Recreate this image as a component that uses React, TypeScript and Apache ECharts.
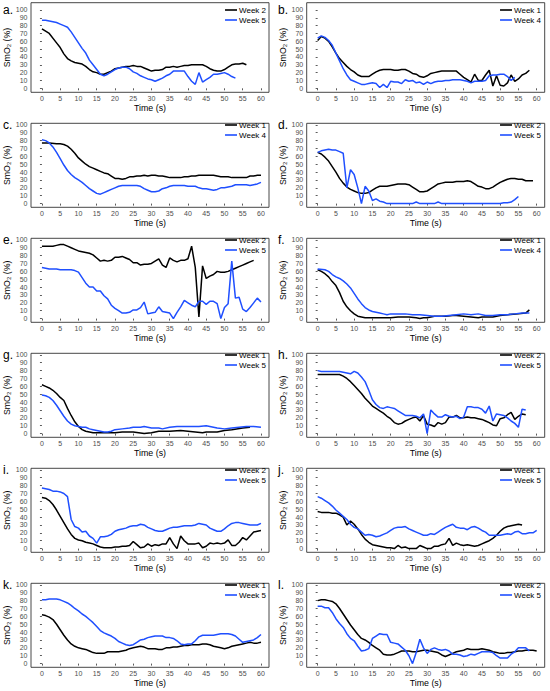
import React, { useEffect, useRef } from "react";
import * as echarts from "echarts";

// ---- data: [time (s), SmO2 (%)] ----
const aWeek2 = [[0,76],[2,70],[4,58],[5,52],[6,44],[7,38],[8,35],[9,33],[10,32],[11,31],[12,28],[13,24],[14,21],[15,20],[16,18],[17,18],[18,20],[19,22],[20,25],[21,26],[22,27],[23,28],[24,28],[25,29],[26,28],[27,28],[28,26],[29,24],[30,22],[31,23],[32,23],[33,24],[34,27],[35,27],[36,28],[37,27],[38,28],[39,29],[40,29],[41,30],[42,30],[43,30],[44,30],[45,28],[46,25],[47,23],[48,22],[49,22],[50,24],[51,27],[52,30],[53,31],[54,31],[55,32],[56,30]];
const aWeek5 = [[0,87],[1,87],[2,86],[3,85],[4,84],[5,82],[6,80],[7,78],[8,72],[9,65],[10,58],[11,51],[12,45],[13,36],[14,30],[15,24],[16,18],[17,16],[18,18],[19,21],[20,24],[21,26],[22,27],[23,27],[24,25],[25,21],[26,19],[27,16],[28,14],[29,12],[30,11],[31,9],[32,11],[33,13],[34,16],[35,18],[36,22],[37,22],[38,22],[39,22],[40,15],[41,9],[42,5],[43,20],[44,8],[45,11],[46,14],[47,18],[48,18],[49,19],[50,20],[51,18],[52,15],[53,13]];

const bWeek1 = [[0,61],[1,66],[2,64],[3,60],[4,53],[5,45],[6,38],[7,33],[8,28],[9,24],[10,21],[11,17],[12,15],[13,15],[14,15],[15,18],[16,21],[17,23],[18,24],[19,24],[20,24],[21,23],[22,23],[23,24],[24,24],[25,22],[26,19],[27,18],[28,15],[29,14],[30,16],[31,19],[32,20],[33,21],[34,22],[35,22],[36,22],[37,22],[38,22],[39,18],[40,14],[41,11],[42,8],[43,18],[44,10],[45,10],[46,17],[47,23],[48,3],[49,16],[50,4],[51,3],[52,7],[53,17],[54,9],[55,12],[56,17],[57,19],[58,23]];
const bWeek4 = [[0,64],[1,67],[2,65],[3,61],[4,55],[5,45],[6,35],[7,25],[8,17],[9,11],[10,9],[11,7],[12,5],[13,5],[14,6],[15,7],[16,6],[17,1],[18,5],[19,1],[20,9],[21,8],[22,8],[23,6],[24,11],[25,9],[26,10],[27,7],[28,8],[29,5],[30,8],[31,6],[32,8],[33,9],[34,9],[35,10],[36,10],[37,11],[38,11],[39,11],[40,10],[41,9],[42,7],[43,9],[44,9],[45,9],[46,10],[47,16],[48,17],[49,17],[50,18],[51,18],[52,15],[53,10],[54,14]];

const cWeek1 = [[0,77],[2,77],[4,76],[5,76],[6,75],[7,73],[8,69],[9,64],[10,58],[11,54],[12,50],[13,47],[14,45],[15,43],[16,41],[17,39],[18,38],[19,35],[20,32],[21,32],[22,31],[23,32],[24,34],[25,34],[26,35],[27,35],[28,36],[29,35],[30,36],[31,36],[32,35],[33,35],[34,34],[35,33],[36,33],[37,33],[38,33],[39,34],[40,34],[41,35],[42,35],[43,36],[44,36],[45,36],[46,36],[47,36],[48,35],[49,34],[50,34],[51,34],[52,33],[53,33],[54,33],[55,33],[56,33],[57,35],[58,35],[59,36],[60,36]];
const cWeek4 = [[0,81],[1,80],[2,77],[3,72],[4,65],[5,57],[6,49],[7,42],[8,37],[9,33],[10,30],[11,27],[12,23],[13,19],[14,16],[15,13],[16,12],[17,14],[18,16],[19,18],[20,20],[21,22],[22,23],[23,23],[24,23],[25,23],[26,23],[27,22],[28,19],[29,17],[30,15],[31,15],[32,16],[33,19],[34,20],[35,22],[36,23],[37,23],[38,23],[39,23],[40,22],[41,22],[42,22],[43,20],[44,19],[45,19],[46,18],[47,17],[48,18],[49,20],[50,20],[51,21],[52,22],[53,24],[54,24],[55,24],[56,24],[57,23],[58,24],[59,25],[60,27]];

const dWeek2 = [[0,65],[1,63],[2,59],[3,54],[4,47],[5,40],[6,32],[7,26],[8,21],[9,18],[10,16],[11,14],[12,13],[13,13],[14,14],[15,17],[16,20],[17,22],[18,22],[19,22],[20,23],[21,24],[22,25],[23,25],[24,25],[25,24],[26,21],[27,18],[28,15],[29,15],[30,16],[31,19],[32,22],[33,25],[34,26],[35,27],[36,27],[37,27],[38,28],[39,28],[40,28],[41,29],[42,28],[43,25],[44,22],[45,21],[46,19],[47,19],[48,21],[49,24],[50,27],[51,29],[52,31],[53,32],[54,32],[55,31],[56,31],[57,29],[58,29],[59,29]];
const dWeek5 = [[0,65],[1,67],[2,68],[3,69],[4,68],[5,68],[6,66],[7,64],[8,20],[9,43],[10,37],[11,20],[12,0],[13,22],[14,16],[15,4],[16,6],[17,3],[18,2],[19,0],[20,0],[25,0],[26,0],[27,2],[28,0],[32,0],[33,2],[34,0],[50,0],[51,1],[52,1],[53,2],[54,5],[55,9]];

const eWeek2 = [[0,92],[1,92],[2,92],[3,92],[4,93],[5,94],[6,94],[7,92],[8,90],[9,88],[10,86],[11,85],[12,84],[13,83],[14,81],[15,77],[16,73],[17,74],[18,73],[19,74],[20,78],[21,78],[22,79],[23,77],[24,75],[25,71],[26,71],[27,68],[28,69],[29,69],[30,70],[31,73],[32,76],[33,68],[34,65],[35,77],[36,74],[37,72],[38,74],[39,74],[40,76],[41,92],[42,65],[43,2],[44,67],[45,51],[46,54],[47,56],[48,60],[49,59],[50,59],[51,60],[52,62],[53,64],[54,66],[55,68],[56,70],[57,72],[58,74]];
const eWeek5 = [[0,65],[1,64],[2,63],[3,63],[4,63],[5,62],[6,62],[7,62],[8,62],[9,61],[10,59],[11,52],[12,45],[13,40],[14,40],[15,35],[16,35],[17,29],[18,25],[19,17],[20,13],[21,10],[22,7],[23,7],[24,8],[25,11],[26,11],[27,14],[28,21],[29,6],[30,7],[31,8],[32,15],[33,9],[34,8],[35,7],[36,0],[37,8],[38,15],[39,23],[40,20],[41,17],[42,15],[43,22],[44,22],[45,18],[46,22],[47,22],[48,19],[49,0],[50,14],[51,19],[52,73],[53,26],[54,27],[55,12],[56,9],[57,14],[58,20],[59,26],[60,21]];

const fWeek1 = [[0,62],[1,60],[2,57],[3,53],[4,47],[5,42],[6,33],[7,22],[8,15],[9,10],[10,6],[11,3],[12,2],[13,1],[14,1],[15,1],[20,1],[22,2],[25,2],[27,1],[28,0],[29,1],[30,1],[31,2],[32,3],[35,3],[37,4],[38,4],[40,3],[42,2],[44,1],[45,2],[48,2],[50,4],[52,5],[55,6],[57,7],[58,11]];
const fWeek4 = [[0,63],[2,62],[3,60],[4,56],[5,53],[6,51],[7,48],[8,44],[9,39],[10,32],[11,25],[12,19],[13,14],[14,11],[15,9],[16,8],[17,7],[18,6],[19,5],[20,6],[22,6],[24,6],[26,5],[28,5],[30,4],[32,3],[34,3],[36,4],[38,5],[40,6],[42,5],[44,6],[46,4],[48,4],[50,5],[52,5],[54,6],[56,7],[58,7]];

const gWeek1 = [[0,62],[1,60],[2,58],[3,55],[4,51],[5,46],[6,42],[7,32],[8,23],[9,15],[10,9],[11,5],[12,3],[13,2],[14,1],[15,1],[16,1],[20,1],[22,2],[25,2],[28,0],[30,1],[32,3],[35,3],[38,4],[40,3],[42,2],[44,1],[45,2],[48,2],[50,4],[52,5],[55,7],[57,8]];
const gWeek5 = [[0,49],[1,48],[2,46],[3,42],[4,36],[5,29],[6,22],[7,16],[8,12],[9,10],[10,9],[11,8],[12,8],[13,6],[14,5],[15,4],[16,3],[17,2],[18,2],[19,3],[20,5],[22,6],[24,7],[25,8],[27,8],[28,9],[29,8],[30,7],[32,7],[33,6],[35,8],[37,9],[40,9],[43,9],[45,10],[46,9],[48,7],[50,6],[52,7],[54,8],[56,9],[58,9],[60,8]];

const hWeek2 = [[0,75],[2,75],[4,75],[6,75],[7,73],[8,70],[9,66],[10,61],[11,56],[12,51],[13,45],[14,40],[15,35],[16,32],[17,29],[18,26],[19,22],[20,19],[21,14],[22,12],[23,13],[24,16],[25,18],[26,20],[27,21],[28,16],[29,23],[30,12],[31,11],[32,9],[33,14],[34,12],[35,14],[36,21],[37,21],[38,23],[39,20],[40,20],[41,21],[42,20],[43,20],[44,19],[45,18],[46,16],[47,14],[48,11],[49,10],[50,19],[51,20],[52,24],[53,27],[54,18],[55,22],[56,25],[57,24]];
const hWeek5 = [[0,80],[1,79],[4,79],[6,79],[8,77],[9,76],[10,79],[11,77],[12,72],[13,66],[14,55],[15,43],[16,37],[17,33],[18,32],[19,34],[20,33],[21,32],[22,29],[23,26],[24,23],[25,23],[26,23],[27,22],[28,20],[29,25],[30,0],[31,30],[32,25],[33,21],[34,21],[35,24],[36,22],[37,21],[38,22],[39,19],[40,21],[41,34],[42,34],[43,33],[44,33],[45,31],[46,26],[47,35],[48,16],[49,25],[50,24],[51,23],[52,20],[53,16],[54,13],[55,8],[56,31],[57,30]];

const iWeek2 = [[0,65],[1,64],[2,61],[3,56],[4,49],[5,41],[6,33],[7,25],[8,18],[9,13],[10,11],[11,10],[12,8],[13,7],[14,6],[15,4],[16,2],[17,1],[18,1],[19,1],[20,2],[21,2],[22,3],[23,3],[24,4],[25,9],[26,5],[27,1],[28,2],[29,6],[30,3],[31,5],[32,4],[33,6],[34,6],[35,14],[36,6],[37,0],[38,16],[39,10],[40,6],[41,6],[42,6],[43,7],[44,1],[45,3],[46,7],[47,6],[48,7],[49,6],[50,7],[51,11],[52,4],[53,4],[54,8],[55,14],[56,11],[57,16],[58,21],[59,22],[60,23]];
const iWeek5 = [[0,77],[1,76],[2,75],[3,73],[4,73],[5,72],[6,70],[7,66],[8,37],[9,28],[10,26],[11,21],[12,22],[13,16],[14,13],[15,7],[16,15],[17,15],[18,16],[19,18],[20,22],[21,24],[22,25],[23,26],[24,28],[25,29],[26,29],[27,31],[28,30],[29,27],[30,25],[31,23],[32,22],[33,22],[34,24],[35,26],[36,27],[37,27],[38,28],[39,29],[40,29],[41,29],[42,30],[43,32],[44,31],[45,30],[46,26],[47,24],[48,22],[49,22],[50,25],[51,29],[52,32],[53,33],[54,33],[55,32],[56,31],[57,30],[58,30],[59,30],[60,32]];

const jWeek1 = [[0,47],[1,46],[3,46],[4,45],[5,45],[6,43],[7,40],[8,30],[9,35],[10,31],[11,25],[12,18],[13,12],[14,8],[15,5],[16,4],[17,3],[18,2],[19,1],[20,1],[21,0],[22,4],[23,1],[24,2],[25,0],[26,0],[27,0],[28,4],[29,2],[30,0],[31,0],[32,3],[33,3],[34,5],[35,6],[36,13],[37,4],[38,7],[39,5],[40,4],[41,5],[42,4],[43,3],[44,4],[45,6],[46,8],[47,10],[48,13],[49,17],[50,22],[51,26],[52,28],[53,29],[54,30],[55,31],[56,30]];
const jWeek5 = [[0,66],[1,64],[2,61],[3,58],[4,54],[5,49],[6,45],[7,41],[8,37],[9,31],[10,27],[11,25],[12,21],[13,17],[14,18],[15,17],[16,15],[17,16],[18,18],[19,20],[20,23],[21,26],[22,27],[23,27],[24,28],[25,25],[26,23],[27,21],[28,19],[29,17],[30,17],[31,19],[32,18],[33,21],[34,24],[35,27],[36,29],[37,31],[38,27],[39,26],[40,26],[41,24],[42,27],[43,28],[44,26],[45,23],[46,21],[47,17],[48,17],[49,17],[50,17],[51,18],[52,19],[53,18],[54,21],[55,22],[56,19],[57,19],[58,20],[59,20],[60,23]];

const kWeek1 = [[0,62],[1,61],[2,59],[3,56],[4,50],[5,43],[6,36],[7,30],[8,25],[9,22],[10,20],[11,19],[12,18],[13,16],[14,14],[15,13],[16,13],[17,13],[18,15],[19,15],[20,15],[21,15],[22,16],[23,17],[24,19],[25,20],[26,21],[27,22],[28,21],[29,19],[30,19],[31,19],[32,18],[33,18],[34,20],[35,20],[36,21],[37,21],[38,22],[39,23],[40,23],[41,24],[42,24],[43,24],[44,25],[45,25],[46,24],[47,22],[48,21],[49,20],[50,19],[51,20],[52,22],[53,23],[54,24],[55,25],[56,26],[57,27],[58,26],[59,26],[60,27]];
const kWeek5 = [[0,81],[1,81],[2,82],[3,82],[4,82],[5,81],[6,79],[7,77],[8,74],[9,70],[10,67],[11,63],[12,60],[13,56],[14,52],[15,47],[16,42],[17,39],[18,37],[19,35],[20,32],[21,28],[22,26],[23,24],[24,23],[25,24],[26,27],[27,30],[28,31],[29,33],[30,34],[31,35],[32,35],[33,35],[34,33],[35,33],[36,32],[37,29],[38,25],[39,24],[40,25],[41,25],[42,29],[43,34],[44,36],[45,36],[46,36],[47,36],[48,37],[49,38],[50,38],[51,38],[52,37],[53,35],[54,31],[55,27],[56,28],[57,29],[58,30],[59,33],[60,37]];

const lWeek2 = [[0,80],[1,81],[2,81],[3,80],[4,79],[5,76],[6,70],[7,63],[8,56],[9,49],[10,43],[11,37],[12,32],[13,30],[14,27],[15,23],[16,20],[17,17],[18,12],[19,11],[20,11],[21,12],[22,14],[23,16],[24,16],[25,16],[26,15],[27,15],[28,16],[29,17],[30,17],[31,16],[32,15],[33,14],[34,11],[35,9],[36,11],[37,13],[38,15],[39,16],[40,17],[41,19],[42,18],[43,18],[44,18],[45,19],[46,18],[47,17],[48,15],[49,14],[50,13],[51,13],[52,14],[53,14],[54,15],[55,16],[56,16],[57,17],[58,17],[59,17],[60,16]];
const lWeek5 = [[0,73],[1,73],[2,71],[3,71],[4,65],[5,57],[6,51],[7,46],[8,38],[9,32],[10,29],[11,22],[12,16],[13,17],[14,19],[15,32],[16,35],[17,38],[18,37],[19,37],[20,27],[21,26],[22,25],[23,21],[24,17],[25,10],[26,0],[27,14],[28,31],[29,20],[30,13],[31,18],[32,20],[33,18],[34,17],[35,18],[36,16],[37,12],[38,12],[39,11],[40,9],[41,10],[42,12],[43,11],[44,13],[45,15],[46,15],[47,15],[48,14],[49,10],[50,7],[51,7],[52,7],[53,12],[54,15],[55,20],[56,20],[57,20],[58,16]];

const panelLabels = ["a.", "b.", "c.", "d.", "e.", "f.", "g.", "h.", "i.", "j.", "k.", "l."];
const blackNames = ["Week 2", "Week 1", "Week 1", "Week 2", "Week 2", "Week 1", "Week 1", "Week 2", "Week 2", "Week 1", "Week 1", "Week 2"];
const blueNames = ["Week 5", "Week 4", "Week 4", "Week 5", "Week 5", "Week 4", "Week 5", "Week 5", "Week 5", "Week 5", "Week 5", "Week 5"];
const blackData = [aWeek2, bWeek1, cWeek1, dWeek2, eWeek2, fWeek1, gWeek1, hWeek2, iWeek2, jWeek1, kWeek1, lWeek2];
const blueData = [aWeek5, bWeek4, cWeek4, dWeek5, eWeek5, fWeek4, gWeek5, hWeek5, iWeek5, jWeek5, kWeek5, lWeek5];

const xTicks = [0, 5, 10, 15, 20, 25, 30, 35, 40, 45, 50, 55, 60];
const yTicks = [0, 10, 20, 30, 40, 50, 60, 70, 80, 90, 100];

const FONT = "Liberation Sans, Arial, Helvetica, sans-serif";
const BLACK = "#000000";
const BLUE = "#1f4fff";

export default function App() {
  const ref = useRef<HTMLDivElement>(null);
  useEffect(() => {
    if (!ref.current) return;
    document.body.style.margin = "0";
    const chart = echarts.init(ref.current, undefined, { renderer: "svg" });
    const grids: any[] = [];
    const xAxes: any[] = [];
    const yAxes: any[] = [];
    const legends: any[] = [];
    const series: any[] = [];
    const graphics: any[] = [];
    panelLabels.forEach((lab, i) => {
      const col = i % 2;
      const row = Math.floor(i / 2);
      const top = row === 0 ? 2.7 : 8.3 + 115 * row;
      const height = row === 0 ? 89.6 : 84;
      grids.push({
        left: col === 0 ? 31 : 306.7,
        top,
        width: 238,
        height,
        show: true,
        borderColor: "#333",
        borderWidth: 0.9,
        backgroundColor: "transparent",
      });
      xAxes.push({
        type: "value",
        gridIndex: i,
        min: -3,
        max: 62.2,
        axisLine: { show: false },
        splitLine: { show: false },
        axisTick: { show: true, length: 2, customValues: xTicks, lineStyle: { color: "#333", width: 0.8 } },
        axisLabel: { customValues: xTicks, fontSize: 7, color: "#4d4d4d", margin: 3, fontFamily: FONT },
        name: "Time (s)",
        nameLocation: "middle",
        nameGap: 11,
        nameTextStyle: { fontSize: 8.8, color: "#000", fontFamily: FONT },
      });
      yAxes.push({
        type: "value",
        gridIndex: i,
        min: row === 0 ? -5.1 : -4.7,
        max: row === 0 ? 109.3 : 102,
        axisLine: { show: false },
        splitLine: { show: false },
        axisTick: { show: true, length: 2, customValues: yTicks, lineStyle: { color: "#333", width: 0.8 } },
        axisLabel: { customValues: yTicks, fontSize: 7, color: "#4d4d4d", margin: 3.5, fontFamily: FONT },
        name: "SmO₂ (%)",
        nameLocation: "middle",
        nameRotate: 90,
        nameGap: 19,
        nameTextStyle: { fontSize: 8.8, color: "#000", fontFamily: FONT },
      });
      legends.push({
        orient: "vertical",
        right: col === 0 ? 284 : 9,
        top: 5 + 115 * row,
        padding: 0,
        itemGap: 0,
        icon: "rect",
        itemWidth: 12,
        itemHeight: 1.6,
        selectedMode: false,
        textStyle: { fontSize: 8, color: "#000", lineHeight: 10, fontFamily: FONT, padding: [0, 0, 0, -3] },
        data: [blackNames[i], blueNames[i]],
      });
      series.push({
        type: "line",
        name: blackNames[i],
        xAxisIndex: i,
        yAxisIndex: i,
        data: blackData[i],
        showSymbol: false,
        symbol: "none",
        lineStyle: { width: 1.5, color: BLACK },
        itemStyle: { color: BLACK },
        silent: true,
      });
      series.push({
        type: "line",
        name: blueNames[i],
        xAxisIndex: i,
        yAxisIndex: i,
        data: blueData[i],
        showSymbol: false,
        symbol: "none",
        lineStyle: { width: 1.5, color: BLUE },
        itemStyle: { color: BLUE },
        silent: true,
      });
      graphics.push({
        type: "text",
        x: col === 0 ? 3 : 278,
        y: 9.5 + 115 * row,
        style: { text: lab, fontSize: 12, fill: "#000", fontFamily: FONT, verticalAlign: "middle" },
      });
    });
    chart.setOption({
      animation: false,
      backgroundColor: "#fff",
      grid: grids,
      xAxis: xAxes,
      yAxis: yAxes,
      legend: legends,
      series,
      graphic: graphics,
    });
    return () => chart.dispose();
  }, []);
  return <div ref={ref} style={{ position: "absolute", left: 0, top: 0, width: 550, height: 691 }} />;
}
